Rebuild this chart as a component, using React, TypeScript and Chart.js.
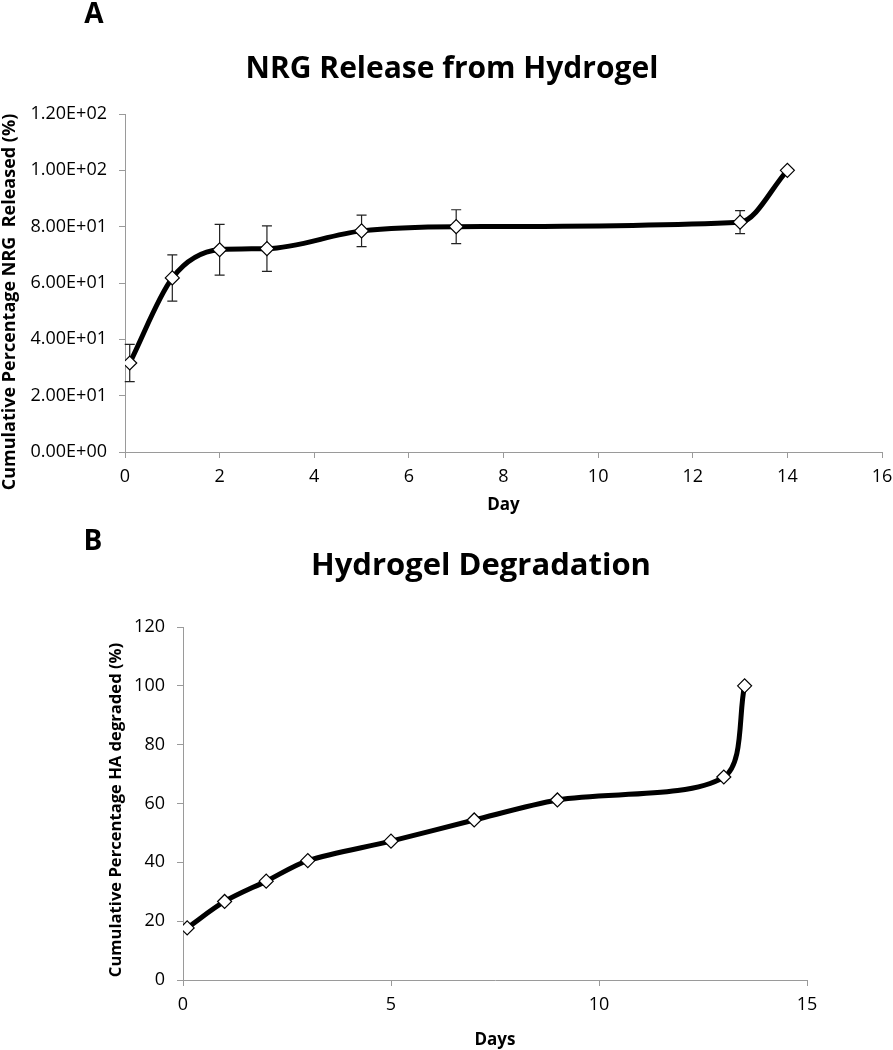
import React, { useEffect, useRef } from "react";
import { Chart, registerables } from "chart.js";

Chart.register(...registerables);

// ---------- Data ----------
const releaseDays = [0.1, 1, 2, 3, 5, 7, 13, 14];
const releasePct = [31.6, 61.8, 71.8, 72.2, 78.5, 80.0, 81.6, 100];
const releaseErr = [6.6, 8.2, 9.0, 8.1, 5.6, 6.0, 4.1, 0];

const degradeDays = [0.1, 1, 2, 3, 5, 7, 9, 13, 13.5];
const degradePct = [17.7, 26.7, 33.6, 40.6, 47.2, 54.4, 61.2, 69.0, 100];

const releaseXTicks = [0, 2, 4, 6, 8, 10, 12, 14, 16];
const releaseYTicks = [0, 20, 40, 60, 80, 100, 120];
const degradeXTicks = [0, 5, 10, 15];
const degradeYTicks = [0, 20, 40, 60, 80, 100, 120];

const FONT = "'Open Sans', 'Noto Sans', sans-serif";
const AXIS_GRAY = "#9a9a9a";

function sci(v: number): string {
  if (v === 0) return "0.00E+00";
  const exp = Math.floor(Math.log10(Math.abs(v)));
  const mant = v / Math.pow(10, exp);
  const sign = exp < 0 ? "-" : "+";
  const e = String(Math.abs(exp)).padStart(2, "0");
  return `${mant.toFixed(2)}E${sign}${e}`;
}

type TextSpec = {
  letter: string;
  letterX: number;
  letterY: number;
  title: string;
  titleX: number;
  titleY: number;
  titleSize: number;
  yTitle: string;
  yTitleX: number;
  yTitleY: number;
  yTitleSize: number;
};

function textPlugin(t: TextSpec) {
  return {
    id: "panelText" + t.letter,
    afterDraw(chart: any) {
      const ctx = chart.ctx;
      ctx.save();
      ctx.fillStyle = "#000";
      ctx.textAlign = "center";
      ctx.textBaseline = "middle";
      ctx.font = `bold 28px ${FONT}`;
      ctx.fillText(t.letter, t.letterX, t.letterY);
      ctx.font = `bold ${t.titleSize}px ${FONT}`;
      ctx.fillText(t.title, t.titleX, t.titleY);
      ctx.translate(t.yTitleX, t.yTitleY);
      ctx.rotate(-Math.PI / 2);
      ctx.font = `bold ${t.yTitleSize}px ${FONT}`;
      ctx.fillText(t.yTitle, 0, 0);
      ctx.restore();
    },
  };
}

const errorBarPlugin = {
  id: "errorBars",
  beforeDatasetsDraw(chart: any) {
    const errs: number[] | undefined = chart.options.plugins?.errorBars?.errors;
    if (!errs) return;
    const ds = chart.data.datasets[0];
    const xs = chart.scales.x;
    const ys = chart.scales.y;
    const ctx = chart.ctx;
    ctx.save();
    ctx.strokeStyle = "#222";
    ctx.lineWidth = 1.2;
    ds.data.forEach((p: any, i: number) => {
      const e = errs[i];
      if (!e) return;
      const px = xs.getPixelForValue(p.x);
      const top = ys.getPixelForValue(p.y + e);
      const bot = ys.getPixelForValue(p.y - e);
      ctx.beginPath();
      ctx.moveTo(px, top);
      ctx.lineTo(px, bot);
      ctx.moveTo(px - 5, top);
      ctx.lineTo(px + 5, top);
      ctx.moveTo(px - 5, bot);
      ctx.lineTo(px + 5, bot);
      ctx.stroke();
    });
    ctx.restore();
  },
};

function baseConfig(opts: {
  xs: number[];
  ys: number[];
  xTicks: number[];
  yTicks: number[];
  xMax: number;
  yFormat: (v: number) => string;
  xTitle: string;
  yWidth: number;
  xHeight: number;
  xTitlePad: number;
  padTop: number;
  padRight: number;
  monotone: boolean;
  tension: number;
  errors?: number[];
  plugins: any[];
}) {
  return {
    type: "line" as const,
    data: {
      datasets: [
        {
          data: opts.xs.map((x, i) => ({ x, y: opts.ys[i] })),
          borderColor: "#000",
          borderWidth: 5,
          cubicInterpolationMode: opts.monotone ? ("monotone" as const) : ("default" as const),
          tension: opts.tension,
          pointStyle: "rectRot" as const,
          pointRadius: 7,
          pointBackgroundColor: "#fff",
          pointBorderColor: "#000",
          pointBorderWidth: 1.2,
          fill: false,
        },
      ],
    },
    options: {
      animation: false as const,
      responsive: false,
      devicePixelRatio: 1,
      layout: { padding: { top: opts.padTop, right: opts.padRight, left: 0, bottom: 0 } },
      plugins: {
        legend: { display: false },
        tooltip: { enabled: false },
        errorBars: { errors: opts.errors },
      },
      scales: {
        x: {
          type: "linear" as const,
          min: 0,
          max: opts.xMax,
          afterBuildTicks: (s: any) => {
            s.ticks = opts.xTicks.map((v) => ({ value: v }));
          },
          afterFit: (s: any) => {
            s.height = opts.xHeight;
            s.paddingRight = 0;
            s.paddingLeft = 0;
          },
          grid: { drawOnChartArea: false, color: AXIS_GRAY, tickLength: 6, lineWidth: 1 },
          border: { color: AXIS_GRAY, width: 1 },
          ticks: { color: "#000", font: { family: FONT, size: 18 }, padding: 8, maxRotation: 0 },
          title: {
            display: true,
            text: opts.xTitle,
            color: "#000",
            font: { family: FONT, size: 17, weight: "bold" as const },
            padding: { top: 0, bottom: opts.xTitlePad },
          },
        },
        y: {
          type: "linear" as const,
          min: 0,
          max: 120,
          afterBuildTicks: (s: any) => {
            s.ticks = opts.yTicks.map((v) => ({ value: v }));
          },
          afterFit: (s: any) => {
            s.width = opts.yWidth;
          },
          grid: { drawOnChartArea: false, color: AXIS_GRAY, tickLength: 6, lineWidth: 1 },
          border: { color: AXIS_GRAY, width: 1 },
          ticks: {
            color: "#000",
            font: { family: FONT, size: 18 },
            padding: 12,
            callback: (v: any) => opts.yFormat(Number(v)),
          },
          title: { display: false },
        },
      },
    },
    plugins: [errorBarPlugin, ...opts.plugins],
  };
}

export default function App() {
  const refA = useRef<HTMLCanvasElement>(null);
  const refB = useRef<HTMLCanvasElement>(null);

  useEffect(() => {
    document.body.style.margin = "0";
    document.body.style.overflow = "hidden";
    const cfgA = baseConfig({
      xs: releaseDays,
      ys: releasePct,
      xTicks: releaseXTicks,
      yTicks: releaseYTicks,
      xMax: 16,
      yFormat: sci,
      xTitle: "Day",
      yWidth: 125,
      xHeight: 73,
      xTitlePad: 10,
      padTop: 114,
      padRight: 11,
      monotone: true,
      tension: 0.4,
      errors: releaseErr,
      plugins: [
        textPlugin({
          letter: "A",
          letterX: 94,
          letterY: 15,
          title: "NRG Release from Hydrogel",
          titleX: 452,
          titleY: 69,
          titleSize: 30,
          yTitle: "Cumulative Percentage NRG  Released (%)",
          yTitleX: 10,
          yTitleY: 302,
          yTitleSize: 18,
        }),
      ],
    });
    const cfgB = baseConfig({
      xs: degradeDays,
      ys: degradePct,
      xTicks: degradeXTicks,
      yTicks: degradeYTicks,
      xMax: 15,
      yFormat: (v) => String(v),
      xTitle: "Days",
      yWidth: 183,
      xHeight: 70,
      xTitlePad: 0,
      padTop: 102,
      padRight: 86,
      monotone: false,
      tension: 0.3,
      plugins: [
        textPlugin({
          letter: "B",
          letterX: 93,
          letterY: 17,
          title: "Hydrogel Degradation",
          titleX: 481,
          titleY: 41,
          titleSize: 31,
          yTitle: "Cumulative Percentage HA degraded (%)",
          yTitleX: 116,
          yTitleY: 285,
          yTitleSize: 16.6,
        }),
      ],
    });
    const a = new Chart(refA.current as HTMLCanvasElement, cfgA as any);
    const b = new Chart(refB.current as HTMLCanvasElement, cfgB as any);
    return () => {
      a.destroy();
      b.destroy();
    };
  }, []);

  return (
    <div style={{ position: "absolute", left: 0, top: 0, width: 893, height: 1050, background: "#fff" }}>
      <canvas ref={refA} width={893} height={525} style={{ display: "block" }} />
      <canvas ref={refB} width={893} height={525} style={{ display: "block" }} />
    </div>
  );
}
